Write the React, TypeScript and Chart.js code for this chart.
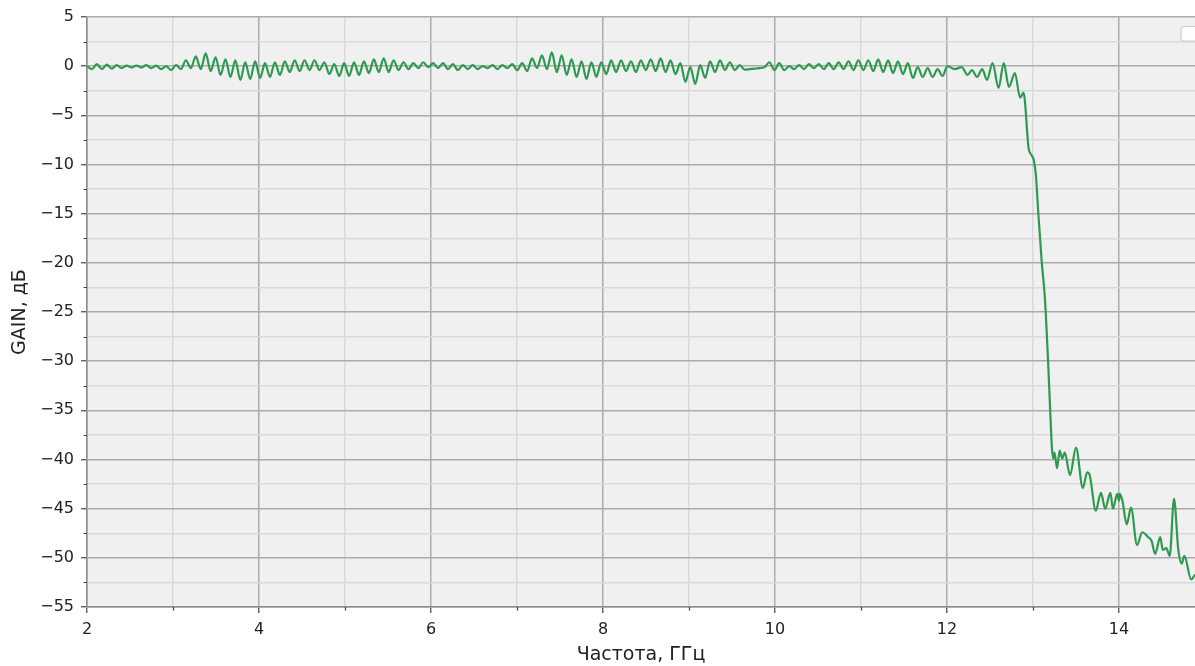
import { useEffect, useRef } from "react";
import { Chart, registerables } from "chart.js";

Chart.register(...registerables);

const freqGHz: number[] = [
  2.000, 2.058, 2.115, 2.173, 2.230, 2.288, 2.345, 2.403, 2.460, 2.518,
  2.575, 2.633, 2.690, 2.748, 2.805, 2.863, 2.920, 2.978, 3.035, 3.093,
  3.150, 3.208, 3.265, 3.323, 3.380, 3.438, 3.495, 3.553, 3.610, 3.668,
  3.725, 3.783, 3.840, 3.898, 3.955, 4.013, 4.070, 4.128, 4.185, 4.243,
  4.300, 4.358, 4.415, 4.473, 4.530, 4.588, 4.645, 4.703, 4.760, 4.818,
  4.875, 4.933, 4.990, 5.048, 5.105, 5.163, 5.220, 5.278, 5.335, 5.393,
  5.450, 5.508, 5.565, 5.623, 5.680, 5.738, 5.795, 5.853, 5.910, 5.968,
  6.025, 6.083, 6.140, 6.198, 6.255, 6.313, 6.370, 6.428, 6.485, 6.543,
  6.600, 6.658, 6.715, 6.773, 6.830, 6.888, 6.945, 7.003, 7.060, 7.118,
  7.175, 7.233, 7.290, 7.348, 7.405, 7.463, 7.520, 7.578, 7.635, 7.693,
  7.750, 7.808, 7.865, 7.923, 7.980, 8.038, 8.095, 8.153, 8.210, 8.268,
  8.325, 8.383, 8.440, 8.498, 8.555, 8.613, 8.670, 8.728, 8.785, 8.843,
  8.900, 8.958, 9.015, 9.073, 9.130, 9.188, 9.245, 9.303, 9.360, 9.418,
  9.475, 9.533, 9.590, 9.648, 9.705, 9.763, 9.820, 9.878, 9.935, 9.993,
  10.050, 10.108, 10.165, 10.223, 10.280, 10.338, 10.395, 10.453, 10.510, 10.568,
  10.625, 10.683, 10.740, 10.798, 10.855, 10.913, 10.970, 11.028, 11.085, 11.143,
  11.200, 11.258, 11.315, 11.373, 11.430, 11.488, 11.545, 11.603, 11.660, 11.718,
  11.775, 11.833, 11.890, 11.948, 12.005,
  12.090, 12.170, 12.240, 12.290, 12.350, 12.410, 12.465, 12.530, 12.600, 12.660,
  12.720, 12.790, 12.850, 12.890, 12.950, 12.980, 13.010, 13.035, 13.060, 13.100,
  13.140, 13.175, 13.200, 13.220, 13.235, 13.250, 13.280, 13.310, 13.340, 13.370,
  13.430, 13.500, 13.580, 13.630, 13.660, 13.730, 13.790, 13.840, 13.900, 13.930,
  13.980, 14.000, 14.010, 14.040, 14.090, 14.140, 14.210, 14.270, 14.340, 14.380,
  14.420, 14.480, 14.510, 14.550, 14.590, 14.640, 14.690, 14.730, 14.760, 14.840,
  14.884,
];

const gainDb: number[] = [
  0.0, -0.3, 0.2, -0.3, 0.15, -0.25, 0.1, -0.2, 0.05, -0.15,
  0.05, -0.15, 0.1, -0.2, 0.05, -0.3, 0.0, -0.4, 0.1, -0.3,
  0.6, -0.2, 1.0, -0.3, 1.3, -0.5, 0.9, -0.9, 0.7, -1.1,
  0.6, -1.4, 0.4, -1.3, 0.5, -1.2, 0.3, -1.1, 0.4, -0.9,
  0.5, -0.6, 0.6, -0.5, 0.6, -0.4, 0.6, -0.4, 0.4, -0.8,
  0.2, -1.0, 0.3, -1.0, 0.4, -0.9, 0.5, -0.7, 0.7, -0.6,
  0.8, -0.6, 0.6, -0.4, 0.4, -0.3, 0.3, -0.2, 0.4, -0.1,
  0.3, -0.2, 0.3, -0.3, 0.2, -0.4, 0.1, -0.3, 0.1, -0.3,
  0.0, -0.2, 0.1, -0.3, 0.1, -0.2, 0.2, -0.4, 0.3, -0.5,
  0.8, -0.2, 1.1, -0.3, 1.4, -0.6, 1.1, -0.9, 0.7, -1.1,
  0.5, -1.3, 0.4, -1.1, 0.4, -0.8, 0.6, -0.6, 0.6, -0.5,
  0.5, -0.6, 0.6, -0.4, 0.7, -0.5, 0.8, -0.6, 0.6, -0.8,
  0.3, -1.6, -0.1, -1.8, 0.1, -1.2, 0.5, -0.6, 0.6, -0.4,
  0.4, -0.4, 0.1, -0.35, -0.3, -0.25, -0.2, -0.1, 0.4, -0.4,
  0.3, -0.4, 0.0, -0.3, 0.1, -0.3, 0.2, -0.2, 0.2, -0.3,
  0.3, -0.3, 0.4, -0.3, 0.5, -0.4, 0.6, -0.4, 0.6, -0.5,
  0.7, -0.6, 0.6, -0.7, 0.5, -0.8, 0.3, -1.2, -0.1, -1.1,
  -0.2, -1.1, -0.3, -1.0, 0.0,
  -0.3, -0.1, -0.9, -0.4, -1.1, -0.3, -1.4, 0.3, -2.2, 0.3,
  -2.1, -0.7, -3.2, -2.7, -8.4, -9.0, -9.6, -11.2, -14.7, -19.7,
  -23.8, -29.9, -35.0, -38.8, -39.9, -39.3, -40.9, -39.1, -39.9, -39.3,
  -41.6, -38.8, -42.9, -41.3, -41.6, -45.2, -43.4, -45.0, -43.4, -45.0,
  -43.5, -44.2, -43.5, -44.2, -46.6, -44.9, -48.7, -47.4, -47.9, -48.3,
  -49.6, -47.9, -49.2, -49.0, -49.8, -44.0, -49.2, -50.6, -49.8, -52.2,
  -51.7,
];

const xTicks: number[] = [2, 3, 4, 5, 6, 7, 8, 9, 10, 11, 12, 13, 14];
const yTicks: number[] = [
  -55, -52.5, -50, -47.5, -45, -42.5, -40, -37.5, -35, -32.5, -30, -27.5, -25,
  -22.5, -20, -17.5, -15, -12.5, -10, -7.5, -5, -2.5, 0, 2.5, 5,
];
const xTitle = "Частота, ГГц";
const yTitle = "GAIN, дБ";

const FONT = "'DejaVu Sans', sans-serif";

export default function App() {
  const ref = useRef<HTMLCanvasElement | null>(null);

  useEffect(() => {
    const canvas = ref.current;
    if (!canvas) return;

    const isMajorX = (v: number) => Math.abs(v % 2) < 1e-9;
    const isMajorY = (v: number) => Math.abs(v % 5) < 1e-9;

    const bgPlugin = {
      id: "bgPlugin",
      beforeDraw(chart: any) {
        const { ctx, chartArea: a } = chart;
        ctx.save();
        ctx.fillStyle = "#f0f0f0";
        ctx.fillRect(a.left, a.top, a.right - a.left, a.bottom - a.top);
        ctx.restore();
      },
    };

    const minorTickPlugin = {
      id: "minorTickPlugin",
      afterDraw(chart: any) {
        const { ctx, chartArea: a, scales } = chart;
        ctx.save();
        ctx.strokeStyle = "#444";
        ctx.lineWidth = 1.2;
        ctx.beginPath();
        for (const v of xTicks) {
          if (isMajorX(v)) continue;
          const px = Math.round(scales.x.getPixelForValue(v)) + 0.5;
          ctx.moveTo(px, a.bottom);
          ctx.lineTo(px, a.bottom + 3.5);
        }
        for (const v of yTicks) {
          if (isMajorY(v)) continue;
          const py = Math.round(scales.y.getPixelForValue(v)) + 0.5;
          ctx.moveTo(a.left - 3.5, py);
          ctx.lineTo(a.left, py);
        }
        ctx.stroke();
        // empty legend frame (top-right)
        ctx.beginPath();
        ctx.roundRect(a.right - 14, a.top + 9.5, 30, 14.5, 3);
        ctx.fillStyle = "rgba(255,255,255,0.85)";
        ctx.fill();
        ctx.strokeStyle = "#cfcfcf";
        ctx.lineWidth = 1.2;
        ctx.stroke();
        ctx.restore();
      },
    };

    const chart = new Chart(canvas, {
      type: "line",
      data: {
        datasets: [
          {
            data: freqGHz.map((x, i) => ({ x, y: gainDb[i] })),
            borderColor: "#2e9a50",
            borderWidth: 2.2,
            pointRadius: 0,
            fill: false,
            cubicInterpolationMode: "monotone",
          },
        ],
      },
      options: {
        animation: false,
        responsive: false,
        devicePixelRatio: 1,
        layout: { padding: { top: 17, left: 0, right: 0, bottom: 0 } },
        plugins: {
          legend: { display: false },
          tooltip: { enabled: false },
        },
        scales: {
          x: {
            type: "linear",
            min: 2,
            max: 14.884,
            afterBuildTicks: (s: any) => {
              s.ticks = xTicks.map((v) => ({ value: v }));
            },
            afterFit: (s: any) => {
              s.height = 59;
            },
            ticks: {
              autoSkip: false,
              maxRotation: 0,
              padding: 7,
              color: "#222",
              font: { family: FONT, size: 16 },
              callback: (v: any) => (isMajorX(Number(v)) ? String(v) : ""),
            },
            grid: {
              color: (c: any) => (c.tick && isMajorX(c.tick.value) ? "#ababab" : "#d9d9d9"),
              lineWidth: 1.5,
              tickLength: 6,
              tickWidth: 1.2,
              tickColor: (c: any) => (c.tick && isMajorX(c.tick.value) ? "#444" : "rgba(0,0,0,0)"),
            },
            border: { color: "#8c8c8c", width: 1.5 },
            title: {
              display: true,
              text: xTitle,
              color: "#222",
              font: { family: FONT, size: 19 },
              padding: { top: 0, bottom: 0 },
            },
          },
          y: {
            type: "linear",
            min: -55,
            max: 5,
            afterBuildTicks: (s: any) => {
              s.ticks = yTicks.map((v) => ({ value: v }));
            },
            afterFit: (s: any) => {
              s.width = 87;
            },
            ticks: {
              autoSkip: false,
              padding: 7,
              color: "#222",
              font: { family: FONT, size: 16 },
              callback: (v: any) =>
                isMajorY(Number(v)) ? String(v).replace("-", "\u2212") : "",
            },
            grid: {
              color: (c: any) => (c.tick && isMajorY(c.tick.value) ? "#ababab" : "#d9d9d9"),
              lineWidth: 1.5,
              tickLength: 6,
              tickWidth: 1.2,
              tickColor: (c: any) => (c.tick && isMajorY(c.tick.value) ? "#444" : "rgba(0,0,0,0)"),
            },
            border: { color: "#8c8c8c", width: 1.5 },
            title: {
              display: true,
              text: yTitle,
              color: "#222",
              font: { family: FONT, size: 19 },
              padding: { top: 9, bottom: 0 },
            },
          },
        },
      },
      plugins: [bgPlugin, minorTickPlugin],
    } as any);

    return () => chart.destroy();
  }, []);

  return (
    <div
      style={{
        position: "absolute",
        left: 0,
        top: 0,
        width: 1195,
        height: 666,
        overflow: "hidden",
        background: "#ffffff",
      }}
    >
      <canvas ref={ref} width={1195} height={666} style={{ width: 1195, height: 666, display: "block" }} />
    </div>
  );
}
